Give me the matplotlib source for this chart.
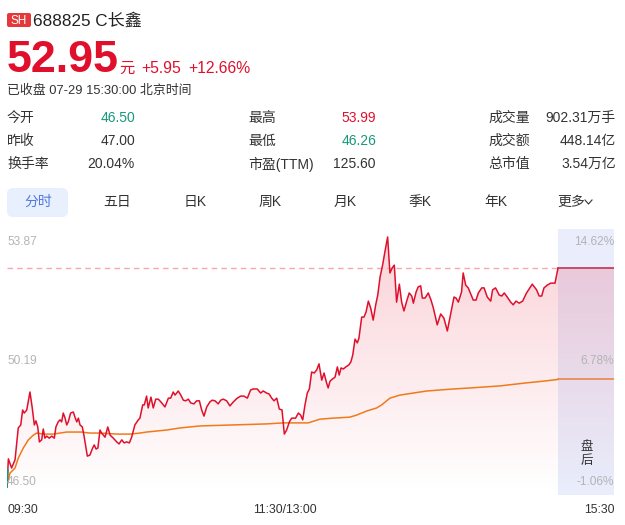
import matplotlib
matplotlib.use('Agg')
import matplotlib.pyplot as plt
import numpy as np
from matplotlib.patches import FancyBboxPatch, PathPatch

plt.rcParams['font.family'] = ['Liberation Sans', 'Noto Sans CJK SC']

# ---------------- data ----------------
market = "SH"
code_name = "688825 C长鑫"
last_price = "52.95"
unit = "元"
change = "+5.95"
change_pct = "+12.66%"
status = "已收盘 07-29 15:30:00 北京时间"
stat_labels = [["今开", "昨收", "换手率"],
               ["最高", "最低", "市盈(TTM)"],
               ["成交量", "成交额", "总市值"]]
stat_values = [["46.50", "47.00", "20.04%"],
               ["53.99", "46.26", "125.60"],
               ["902.31万手", "448.14亿", "3.54万亿"]]
stat_colors = [["#17987a", "#333333", "#333333"],
               ["#e0102c", "#17987a", "#333333"],
               ["#333333", "#333333", "#333333"]]
tabs = ["分时", "五日", "日K", "周K", "月K", "季K", "年K", "更多"]
prev_close = 47.00
close = 52.95
price_ticks = ["53.87", "50.19", "46.50"]
pct_ticks = ["14.62%", "6.78%", "-1.06%"]
time_labels = ["09:30", "11:30/13:00", "15:30"]
post_label = "盘\n后"
session_minutes = 240
post_minutes = 30

price_t = [0, 0.6, 2.0, 3.5, 4.9, 6.0, 6.8, 7.5, 8.6, 10.0, 11.0, 11.9, 12.6, 13.4, 14.1, 15.1, 15.8, 16.5, 17.3, 18.4,
           19.5, 20.6, 21.3, 22.3, 23.1, 23.8, 24.5, 25.3, 26.0, 26.7, 27.7, 28.9, 29.6, 30.4, 31.1, 31.8, 32.8, 33.5,
           34.4, 35.0, 36.1, 37.3, 38.0, 38.8, 39.6, 40.5, 41.2, 42.7, 43.9, 44.9, 46.3, 47.8, 48.8, 50.0, 51.0, 52.1,
           53.3, 54.3, 55.7, 57.2, 57.9, 59.1, 59.8, 60.8, 61.5, 62.7, 63.7, 64.8, 65.9, 67.4, 68.8, 70.3, 71.3, 72.4,
           73.2, 74.6, 75.7, 76.8, 77.8, 79.0, 80.0, 81.4, 82.6, 83.8, 84.8, 85.8, 87.0, 88.4, 89.4, 90.6, 92.0, 93.1,
           94.2, 95.7, 97.1, 98.6, 100.3, 101.8, 103.2, 104.7, 106.1, 107.3, 109.0, 110.5, 111.6, 113.1, 114.2, 115.3,
           116.3, 117.5, 118.6, 119.8, 120.8, 121.8, 123.0, 124.0, 125.7, 126.9, 127.9, 128.8, 129.8, 130.8, 131.7,
           132.7, 133.8, 134.9, 135.9, 137.1, 138.1, 139.2, 139.9, 140.7, 141.7, 142.9, 143.9, 144.7, 145.5, 146.5,
           147.6, 148.9, 149.8, 150.6, 151.6, 152.6, 153.3, 154.5, 155.5, 156.4, 157.4, 158.4, 159.5, 160.6, 161.5,
           162.5, 163.6, 164.6, 165.8, 166.8, 167.8, 168.7, 169.7, 170.9, 171.9, 172.9, 174.1, 175.2, 176.3, 177.0,
           178.2, 179.1, 180.2, 180.9, 182.1, 183.5, 184.7, 185.7, 187.4, 188.9, 190.3, 191.8, 192.9, 194.7, 195.6,
           196.6, 198.0, 198.7, 199.8, 200.9, 203.1, 204.3, 205.3, 206.8, 207.8, 209.2, 210.7, 211.5, 212.8, 214.4,
           215.5, 216.6, 217.9, 219.4, 220.5, 221.7, 223.1, 224.6, 226.3, 228.8, 230.7, 231.8, 232.9, 233.9, 235.3,
           236.8, 238.7, 240.0]
price_p = [46.50, 47.33, 47.06, 47.30, 48.24, 48.33, 48.77, 48.68, 48.77, 49.30, 48.83, 48.33, 48.45, 48.27, 47.83,
           47.89, 48.21, 47.94, 48.00, 47.94, 48.00, 47.94, 48.27, 48.42, 48.48, 48.42, 48.68, 48.53, 48.33, 48.42,
           48.68, 48.71, 48.56, 48.42, 48.53, 48.33, 48.27, 48.03, 47.65, 47.41, 47.44, 47.65, 47.74, 47.62, 47.65,
           48.18, 48.09, 47.97, 48.27, 48.03, 47.94, 47.83, 47.77, 47.89, 47.80, 47.83, 47.80, 47.97, 48.33, 48.48,
           48.53, 48.92, 48.92, 49.18, 48.83, 49.15, 48.83, 49.09, 49.09, 48.98, 48.86, 49.12, 49.12, 49.30, 49.21,
           49.33, 49.21, 49.06, 49.04, 49.09, 48.98, 48.95, 49.04, 49.04, 48.77, 48.59, 48.86, 49.01, 49.06, 49.04,
           48.95, 49.06, 49.09, 49.04, 48.89, 49.01, 49.12, 49.18, 49.18, 49.12, 49.36, 49.39, 49.39, 49.27, 49.33,
           49.27, 49.24, 49.12, 49.04, 49.12, 48.80, 48.77, 48.06, 48.18, 48.42, 48.53, 48.53, 48.68, 48.62, 48.48,
           48.92, 49.27, 49.39, 49.89, 49.86, 49.95, 50.13, 49.65, 49.86, 49.57, 49.42, 49.62, 49.68, 49.74, 50.04,
           49.80, 50.01, 49.98, 50.04, 50.10, 50.19, 50.39, 50.86, 50.75, 50.89, 51.51, 51.51, 51.66, 51.98, 51.78,
           51.42, 51.87, 52.16, 52.69, 53.04, 53.43, 53.87, 52.81, 52.96, 53.04, 51.95, 52.48, 51.95, 51.69, 51.98,
           52.22, 52.13, 51.92, 52.25, 52.40, 52.43, 52.07, 52.07, 52.22, 52.01, 51.78, 51.28, 51.60, 51.48, 51.10,
           51.48, 52.10, 52.07, 51.95, 52.25, 52.81, 52.45, 52.37, 52.01, 52.01, 52.22, 52.37, 52.37, 52.10, 51.98,
           52.31, 52.37, 52.16, 52.13, 52.22, 52.10, 51.95, 51.87, 51.98, 51.92, 51.98, 52.22, 52.48, 52.31, 52.13,
           52.13, 52.37, 52.45, 52.51, 52.51, 52.95]

vwap_t = [0, 1.3, 3.5, 4.9, 7.1, 9.3, 11.5, 12.9, 15.8, 20.2, 26.0, 32.5, 36.1, 40.5, 47.8, 53.6, 57.9, 60.8, 69.6,
          75.3, 84.1, 98.6, 113.1, 120.3, 131.2, 136.3, 142.1, 149.4, 152.3, 156.7, 161.0, 163.2, 166.8, 171.2, 177.0,
          182.8, 194.4, 201.7, 214.7, 226.3, 233.6, 240.0]
vwap_p = [46.55, 46.91, 47.06, 47.35, 47.65, 47.89, 48.03, 48.09, 48.06, 48.06, 48.12, 48.12, 48.09, 48.09, 48.06,
          48.06, 48.09, 48.12, 48.18, 48.24, 48.30, 48.33, 48.36, 48.39, 48.39, 48.50, 48.53, 48.56, 48.62, 48.74,
          48.83, 48.92, 49.12, 49.21, 49.27, 49.33, 49.39, 49.42, 49.48, 49.57, 49.62, 49.67]
post_t = [0, 30]
post_price = [52.95, 52.95]
post_vwap = [49.67, 49.67]

assert len(price_t) == len(price_p)
assert len(vwap_t) == len(vwap_p)

# ---------------- layout ----------------
W, H = 625, 525
RED = '#e0102c'
GREEN = '#17987a'
DARK = '#333333'
GRAY = '#b4b4b4'

fig = plt.figure(figsize=(W / 100, H / 100), dpi=100)
fig.patch.set_facecolor('white')

bg = fig.add_axes([0, 0, 1, 1])
bg.set_xlim(0, W); bg.set_ylim(H, 0); bg.axis('off')

# chart axes: pixels x 7..614, y 229..495
px_l, px_r, px_t, px_b = 7, 614, 229, 495
ax = fig.add_axes([px_l / W, 1 - px_b / H, (px_r - px_l) / W, (px_b - px_t) / H])
ax.axis('off')
post_span = 24.4  # width of the after-hours panel in minute units
pad = (float(price_ticks[0]) - float(price_ticks[2])) * 8 / 250
y0, y1 = float(price_ticks[2]) - pad, float(price_ticks[0]) + pad
xend = session_minutes + post_span

post_x = [session_minutes + t / post_minutes * post_span for t in post_t]

# after-hours shading
ax.axvspan(session_minutes, xend, color='#e9edfc', zorder=0, lw=0)

# gradient fill under price
fx = list(price_t) + post_x
fy = list(price_p) + post_price
poly = ax.fill_between(fx, fy, y0, facecolor='none', edgecolor='none')
clip = PathPatch(poly.get_paths()[0], transform=ax.transData, facecolor='none', edgecolor='none')
ax.add_patch(clip)
grad = np.zeros((256, 1, 4))
grad[..., 0] = 0.90; grad[..., 1] = 0.10; grad[..., 2] = 0.20
grad[:, 0, 3] = np.linspace(0.0, 0.2, 256)
im = ax.imshow(grad, extent=[0, xend, y0, y1], origin='lower', aspect='auto', zorder=1, interpolation='bilinear')
im.set_clip_path(clip)

# reference line at close (dashed)
ax.plot([0, session_minutes], [close, close], color='#f6a8af', lw=1.0, dashes=(4, 3), zorder=2)

# lines
ax.plot(price_t, price_p, color=RED, lw=1.1, zorder=4, solid_joinstyle='round')
ax.plot(post_x, post_price, color='#c8304f', lw=1.2, zorder=4)
ax.plot(vwap_t, vwap_p, color='#f07a1a', lw=1.1, zorder=3)
ax.plot(post_x, post_vwap, color='#e8803a', lw=1.1, zorder=3)
# first tick segment below previous close in green
f = (prev_close - price_p[0]) / (price_p[1] - price_p[0])
xc = price_t[0] + f * (price_t[1] - price_t[0])
ax.plot([price_t[0], xc], [price_p[0], prev_close], color=GREEN, lw=1.2, zorder=5)

ax.set_xlim(0, xend)
ax.set_ylim(y0, y1)

# ---------------- overlay text ----------------
ov = fig.add_axes([0, 0, 1, 1])
ov.set_xlim(0, W); ov.set_ylim(H, 0); ov.axis('off')
ov.patch.set_alpha(0)

def T(x, y, s, size=10, color=DARK, ha='left', va='center', weight='normal', **kw):
    ov.text(x, y, s, fontsize=size, color=color, ha=ha, va=va, fontweight=weight, **kw)

# header
ov.add_patch(FancyBboxPatch((7, 13), 24, 14, boxstyle='round,pad=0,rounding_size=2', fc='#e5383b', ec='none'))
T(19, 20.5, market, size=8.5, color='white', ha='center')
T(33, 21, code_name, size=12.3, color='#222222')
T(6.5, 72, last_price, size=32.3, color=RED, weight='bold', va='baseline')
T(119, 73, unit, size=11, color=RED, va='baseline')
T(141, 73, change, size=11.3, color=RED, va='baseline')
T(188, 73, change_pct, size=11.3, color=RED, va='baseline')
T(7, 91, status, size=9.3, color=DARK)

# stats grid
col_lx = [7, 248, 488]
col_rx = [135, 376, 616]
row_y = [118, 141, 164]
for c in range(3):
    for r in range(3):
        T(col_lx[c], row_y[r], stat_labels[c][r], size=10, color=DARK)
        T(col_rx[c], row_y[r], stat_values[c][r], size=10, color=stat_colors[c][r], ha='right')

# tabs
ov.add_patch(FancyBboxPatch((7, 188), 61, 29, boxstyle='round,pad=0,rounding_size=6', fc='#e8f0fe', ec='none'))
tab_x = [38, 117, 195, 270, 345, 420, 496, 571]
for i, (t, x) in enumerate(zip(tabs, tab_x)):
    T(x, 202, t, size=10, color='#4f78e0' if i == 0 else DARK, ha='center')
ov.plot([585, 588.5, 592], [200, 204, 200], color=DARK, lw=0.8)

# axis labels
for s, y in zip(price_ticks, [242, 361, 482]):
    T(7, y, s, size=8.6, color=GRAY)
for s, y in zip(pct_ticks, [242, 361, 482]):
    T(614, y, s, size=8.6, color=GRAY, ha='right')
T(587, 454, post_label, size=9, color=DARK, ha='center', linespacing=1.25)
T(7, 510, time_labels[0], size=8.8, color=DARK)
T(285, 510, time_labels[1], size=8.8, color=DARK, ha='center')
T(615, 510, time_labels[2], size=8.8, color=DARK, ha='right')

fig.savefig('out.png', dpi=100, facecolor='white')
